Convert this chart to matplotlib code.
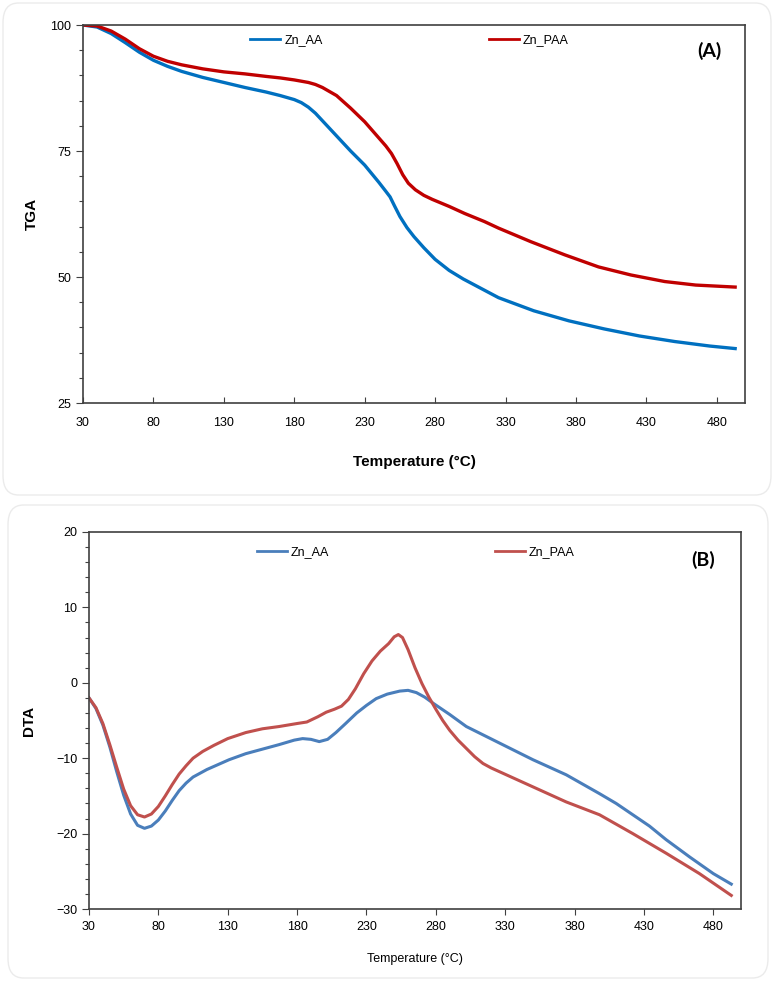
import matplotlib
matplotlib.use("Agg")
import matplotlib.pyplot as plt
from matplotlib.patches import FancyBboxPatch
from matplotlib.ticker import MultipleLocator

plt.rcParams["font.family"] = ["Liberation Sans", "DejaVu Sans"]

# ── TGA (panel A) ─────────────────────────────────────────────────────────────
tga_aa_T = [30, 40, 50, 60, 70, 80, 90, 100, 115, 130, 145, 160, 170, 180, 185,
            190, 195, 200, 210, 220, 230, 240, 245, 248, 251, 255, 260, 265,
            272, 280, 290, 300, 325, 350, 375, 400, 425, 450, 475, 493]
tga_aa = [100, 99.6, 98.3, 96.5, 94.6, 93.0, 91.8, 90.8, 89.6, 88.6, 87.6,
          86.7, 86.0, 85.2, 84.6, 83.7, 82.5, 81.0, 78.0, 75.0, 72.2, 68.8,
          67.0, 65.9, 64.2, 62.0, 59.8, 58.0, 55.8, 53.5, 51.3, 49.6, 45.9,
          43.3, 41.3, 39.7, 38.3, 37.2, 36.3, 35.8]

tga_paa_T = [30, 40, 50, 60, 70, 80, 90, 100, 115, 130, 145, 160, 170, 180,
             190, 195, 200, 210, 220, 230, 240, 245, 249, 253, 257, 261, 266,
             272, 278, 290, 301, 315, 325, 348, 372, 396, 419, 443, 465, 493]
tga_paa = [100, 99.8, 98.8, 97.2, 95.3, 93.8, 92.8, 92.1, 91.3, 90.7, 90.3,
           89.8, 89.5, 89.1, 88.6, 88.2, 87.6, 86.0, 83.5, 80.8, 77.6, 76.0,
           74.5, 72.5, 70.3, 68.6, 67.3, 66.2, 65.4, 64.0, 62.6, 61.0, 59.7,
           57.0, 54.4, 52.0, 50.4, 49.1, 48.4, 48.0]

# ── DTA (panel B) ─────────────────────────────────────────────────────────────
dta_aa_T = [30, 35, 40, 45, 50, 55, 60, 65, 70, 75, 80, 85, 90, 95, 100, 105,
            115, 131, 143, 155, 167, 178, 184, 190, 196, 202, 208, 215, 223,
            230, 237, 245, 254, 260, 266, 272, 278, 290, 302, 314, 326, 350,
            374, 398, 410, 422, 434, 446, 463, 480, 493]
dta_aa = [-2.0, -3.4, -5.6, -8.5, -11.8, -14.9, -17.4, -18.9, -19.3, -19.0,
          -18.2, -17.0, -15.6, -14.3, -13.3, -12.5, -11.5, -10.2, -9.4, -8.8,
          -8.2, -7.6, -7.4, -7.5, -7.8, -7.5, -6.6, -5.4, -4.0, -3.0, -2.1,
          -1.5, -1.1, -1.0, -1.3, -1.9, -2.7, -4.2, -5.8, -6.9, -8.0, -10.2,
          -12.2, -14.7, -16.0, -17.5, -19.0, -20.8, -23.1, -25.3, -26.7]

dta_paa_T = [30, 35, 40, 45, 50, 55, 60, 65, 70, 75, 80, 85, 90, 95, 100, 105,
             112, 120, 130, 143, 155, 167, 180, 187, 195, 201, 207, 212, 217,
             222, 228, 234, 240, 246, 250, 253, 256, 260, 265, 270, 275, 280,
             285, 290, 296, 302, 308, 314, 320, 326, 350, 374, 398, 422, 446,
             470, 493]
dta_paa = [-2.0, -3.3, -5.4, -8.2, -11.2, -14.1, -16.3, -17.5, -17.8, -17.4,
           -16.4, -15.0, -13.5, -12.1, -11.0, -10.0, -9.1, -8.3, -7.4, -6.6,
           -6.1, -5.8, -5.4, -5.2, -4.5, -3.9, -3.5, -3.1, -2.2, -0.8, 1.2,
           2.9, 4.2, 5.2, 6.1, 6.4, 6.0, 4.4, 2.0, -0.1, -1.9, -3.5, -5.0,
           -6.3, -7.6, -8.7, -9.8, -10.7, -11.3, -11.8, -13.8, -15.8, -17.5,
           -20.0, -22.6, -25.3, -28.2]

x_ticks = [30, 80, 130, 180, 230, 280, 330, 380, 430, 480]

W, H = 774, 981
fig = plt.figure(figsize=(W / 100, H / 100), dpi=100)

# light rounded panel frames
for (x0, y0, x1, y1) in [(3, 3, 771, 495), (8, 505, 768, 978)]:
    fig.patches.append(FancyBboxPatch(
        (x0 / W, 1 - y1 / H), (x1 - x0) / W, (y1 - y0) / H,
        boxstyle="round,pad=0,rounding_size=0.02", transform=fig.transFigure,
        facecolor="none", edgecolor="#ebebeb", lw=1.0))

ax1 = fig.add_axes([83 / W, 1 - 403 / H, 662 / W, 378 / H])
ax2 = fig.add_axes([89 / W, 1 - 909 / H, 652 / W, 377 / H])

ax1.plot(tga_aa_T, tga_aa, color="#0070C0", lw=2.4, label="Zn_AA")
ax1.plot(tga_paa_T, tga_paa, color="#C00000", lw=2.4, label="Zn_PAA")
ax2.plot(dta_aa_T, dta_aa, color="#4A7EBB", lw=2.2, label="Zn_AA")
ax2.plot(dta_paa_T, dta_paa, color="#C0504D", lw=2.2, label="Zn_PAA")

ax1.set_ylim(25, 100)
ax1.set_yticks([25, 50, 75, 100])
ax1.yaxis.set_minor_locator(MultipleLocator(5))
ax2.set_ylim(-30, 20)
ax2.set_yticks([-30, -20, -10, 0, 10, 20])
ax2.yaxis.set_minor_locator(MultipleLocator(2))

for ax, xdir, xpad in [(ax1, "in", 10), (ax2, "out", 5)]:
    ax.set_xlim(30, 500)
    ax.set_xticks(x_ticks)
    for s in ax.spines.values():
        s.set_color("#404040")
        s.set_linewidth(1.2)
    ax.tick_params(axis="x", direction=xdir, length=4, width=0.8,
                   colors="#404040", labelcolor="black", labelsize=9, pad=xpad)
    ax.tick_params(axis="y", which="major", direction="out", length=5,
                   width=0.8, colors="#404040", labelcolor="black", labelsize=9)
    ax.tick_params(axis="y", which="minor", direction="out", length=3,
                   width=0.8, colors="#404040")
    ax.legend(loc="upper left", ncol=2, frameon=False, fontsize=9,
              handlelength=2.4, handletextpad=0.3, columnspacing=13.3,
              borderpad=0, borderaxespad=0)

ax1.get_legend().set_bbox_to_anchor((0.253, 0.975))
ax2.get_legend().set_bbox_to_anchor((0.257, 0.962))
for ax in (ax1, ax2):
    for ln in ax.get_legend().get_lines():
        ln.set_linewidth(2.0)

ax1.set_ylabel("TGA", fontsize=11, fontweight="bold", labelpad=8)
ax1.set_xlabel("Temperature (\u00b0C)", fontsize=11, fontweight="bold",
               labelpad=19)
ax2.set_ylabel("DTA", fontsize=11, fontweight="bold", labelpad=14)
ax2.set_xlabel("Temperature (\u00b0C)", fontsize=9, labelpad=14)

ax1.text(0.946, 0.931, "(A)", transform=ax1.transAxes, ha="center",
         va="center", fontsize=14, fontweight="bold", family=["Lato", "DejaVu Sans"])
ax2.text(0.942, 0.926, "(B)", transform=ax2.transAxes, ha="center",
         va="center", fontsize=14, fontweight="bold", family=["Lato", "DejaVu Sans"])

fig.savefig("out.png", dpi=100)
